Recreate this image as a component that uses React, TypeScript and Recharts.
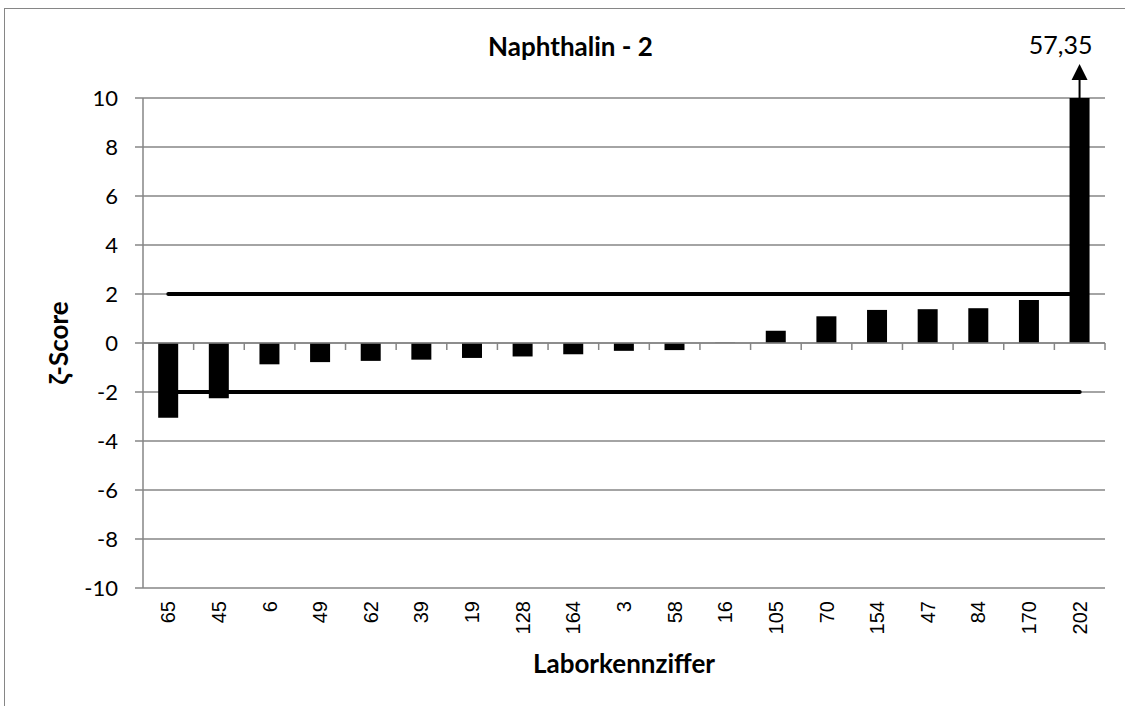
import { ComposedChart, Bar, Line, XAxis, YAxis, CartesianGrid, ReferenceLine, LabelList } from 'recharts'

// Laborkennziffern in Reihenfolge der Balken
const LABS = ['65', '45', '6', '49', '62', '39', '19', '128', '164', '3', '58', '16', '105', '70', '154', '47', '84', '170', '202']
// ζ-Scores
const ZETA = [-3.05, -2.25, -0.87, -0.78, -0.73, -0.68, -0.61, -0.55, -0.46, -0.32, -0.29, 0.01, 0.5, 1.09, 1.35, 1.38, 1.42, 1.76, 57.35]
const LIMIT_UP = 2
const LIMIT_DOWN = -2
const Y_MIN = -10
const Y_MAX = 10
const Y_TICKS = [-10, -8, -6, -4, -2, 0, 2, 4, 6, 8, 10]

const GRID = '#868686'
const CALIBRI_LIKE = 'Lato, "Open Sans", sans-serif'
const ARIAL_LIKE = '"Liberation Sans", Arial, sans-serif'

const data = LABS.map((lab, i) => ({
  lab,
  z: ZETA[i],
  shown: Math.max(Y_MIN, Math.min(Y_MAX, ZETA[i])),
  up: LIMIT_UP,
  down: LIMIT_DOWN,
}))

function RotatedTick({ x, y, payload }: any) {
  const ty = y + 5
  return (
    <text
      x={x}
      y={ty}
      transform={`rotate(-90, ${x}, ${ty})`}
      textAnchor="end"
      dominantBaseline="central"
      style={{ fontFamily: ARIAL_LIKE, fontSize: 20 }}
      fill="#000"
    >
      {payload.value}
    </text>
  )
}

// Nullachse mit Teilstrichen an den Kategoriegrenzen (wie Excel)
function ZeroAxis(props: any) {
  const { x1, y1, x2 } = props
  const n = LABS.length
  const step = (x2 - x1) / n
  return (
    <g>
      <line x1={x1} y1={y1} x2={x2} y2={y1} stroke={GRID} strokeWidth={1.5} />
      {Array.from({ length: n + 1 }, (_, i) => (
        <line key={i} x1={x1 + i * step} y1={y1} x2={x1 + i * step} y2={y1 + 7} stroke={GRID} strokeWidth={1.5} />
      ))}
    </g>
  )
}

// Pfeil + Wert für Balken über dem Achsenmaximum
function OverflowLabel(props: any) {
  const { x, y, width, value } = props
  if (value == null || value <= Y_MAX) return null
  const cx = x + width / 2
  return (
    <g>
      <line x1={cx} y1={y} x2={cx} y2={y - 20} stroke="#000" strokeWidth={2} />
      <polygon points={`${cx - 8},${y - 18} ${cx + 8},${y - 18} ${cx},${y - 34}`} fill="#000" />
      <text x={cx - 19} y={y - 44} textAnchor="middle" fontFamily={CALIBRI_LIKE} fontSize={25} fill="#000">
        {String(value).replace('.', ',')}
      </text>
    </g>
  )
}

export default function App() {
  return (
    <div style={{ position: 'absolute', left: 0, top: 0, width: 1125, height: 706, overflow: 'hidden', background: '#fff' }}>
      <div style={{ position: 'absolute', left: 4, top: 8, width: 1140, height: 720, border: `1.5px solid ${GRID}` }} />
      <div
        style={{
          position: 'absolute',
          left: 0,
          top: 33,
          width: 1141,
          textAlign: 'center',
          fontFamily: CALIBRI_LIKE,
          fontWeight: 700,
          fontSize: 26,
          lineHeight: '26px',
          color: '#000',
        }}
      >
        Naphthalin - 2
      </div>
      <div style={{ position: 'absolute', left: 0, top: 0 }}>
        <ComposedChart width={1125} height={706} data={data} margin={{ top: 98, right: 20, left: 83, bottom: 28 }} barCategoryGap="30%">
          <CartesianGrid vertical={false} stroke={GRID} strokeWidth={1.5} />
          <XAxis
            dataKey="lab"
            interval={0}
            axisLine={false}
            tickLine={false}
            height={90}
            tick={<RotatedTick />}
            label={({ viewBox }: any) => (
              <text
                x={viewBox.x + viewBox.width / 2}
                y={viewBox.y + 85}
                textAnchor="middle"
                fontFamily={CALIBRI_LIKE}
                fontWeight={700}
                fontSize={26}
                fill="#000"
              >
                Laborkennziffer
              </text>
            )}
          />
          <YAxis
            domain={[Y_MIN, Y_MAX]}
            ticks={Y_TICKS}
            width={60}
            tickSize={8}
            tickMargin={17}
            axisLine={{ stroke: GRID, strokeWidth: 1.5 }}
            tickLine={{ stroke: GRID, strokeWidth: 1.5 }}
            tick={{ fontFamily: CALIBRI_LIKE, fontSize: 22, fill: '#000' }}
            label={({ viewBox }: any) => {
              const cx = viewBox.x - 25
              const cy = viewBox.y + viewBox.height / 2
              return (
                <text
                  x={cx}
                  y={cy}
                  transform={`rotate(-90, ${cx}, ${cy})`}
                  textAnchor="middle"
                  dominantBaseline="central"
                  fontFamily={CALIBRI_LIKE}
                  fontWeight={700}
                  fontSize={26}
                  fill="#000"
                >
                  ζ-Score
                </text>
              )
            }}
          />
          <ReferenceLine y={0} shape={<ZeroAxis />} />
          <Line dataKey="up" stroke="#000" strokeWidth={4} strokeLinecap="round" dot={false} activeDot={false} isAnimationActive={false} zIndex={250} />
          <Line dataKey="down" stroke="#000" strokeWidth={4} strokeLinecap="round" dot={false} activeDot={false} isAnimationActive={false} zIndex={250} />
          <Bar dataKey="shown" fill="#000" isAnimationActive={false} zIndex={300}>
            <LabelList dataKey="z" content={<OverflowLabel />} />
          </Bar>
        </ComposedChart>
      </div>
    </div>
  )
}
